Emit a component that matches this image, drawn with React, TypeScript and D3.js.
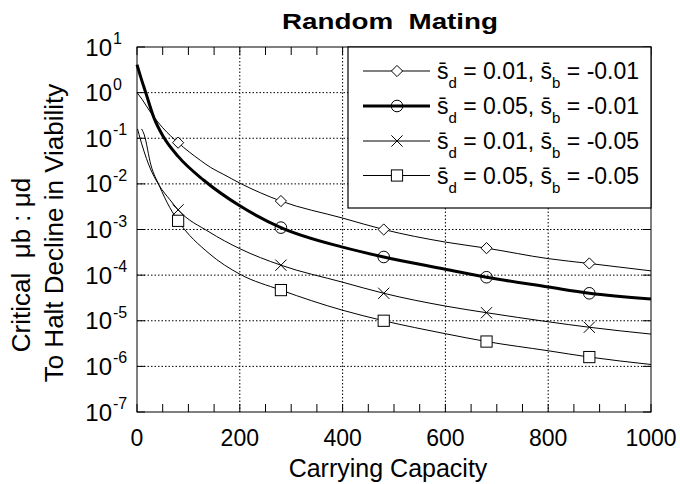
import React from "react";
import * as d3 from "d3";

// ---- data ----
const X_TICKS = [0, 200, 400, 600, 800, 1000];
const X_MINOR = d3.range(0, 1001, 50);
const Y_EXP = [1, 0, -1, -2, -3, -4, -5, -6, -7];

const LABELS = [
  ["0.01", "-0.01"],
  ["0.05", "-0.01"],
  ["0.01", "-0.05"],
  ["0.05", "-0.05"],
];

// series 1: s_d = 0.01, s_b = -0.01 (diamond)
const K_D = [0, 10, 27, 50, 80, 123, 143, 169, 200, 280, 400, 480, 600, 680, 800, 880, 1000];
const V_D = [1.0, 0.71, 0.36, 0.17, 0.08, 0.033, 0.023, 0.016, 0.0104, 4.2e-3, 1.78e-3, 1.0e-3, 5.3e-4, 3.9e-4, 2.3e-4, 1.8e-4, 1.24e-4];
const M_D = [80, 280, 480, 680, 880];

// series 2: s_d = 0.05, s_b = -0.01 (circle, thick)
const K_T = [0, 8, 17, 33, 52, 80, 130, 200, 280, 400, 480, 600, 680, 800, 880, 1000];
const V_T = [4.1, 2.05, 1.0, 0.28, 0.105, 0.04, 0.012, 3.3e-3, 1.1e-3, 4.1e-4, 2.5e-4, 1.35e-4, 9e-5, 5.5e-5, 4e-5, 3e-5];
const M_T = [280, 480, 680, 880];

// series 3: s_d = 0.01, s_b = -0.05 (cross)
const K_X = [1, 4, 23, 43, 64, 80, 140, 200, 280, 400, 480, 600, 680, 800, 880, 1000];
const V_X = [0.16, 0.12, 0.026, 0.0093, 4.5e-3, 2.7e-3, 8.9e-4, 3.8e-4, 1.65e-4, 7e-5, 4e-5, 2.1e-5, 1.5e-5, 9.5e-6, 7.2e-6, 5.1e-6];
const M_X = [80, 280, 480, 680, 880];

// series 4: s_d = 0.05, s_b = -0.05 (square)
const K_S = [9, 14, 27, 43, 64, 80, 140, 200, 280, 400, 480, 600, 680, 800, 880, 1000];
const V_S = [0.16, 0.12, 0.026, 0.0093, 3e-3, 1.55e-3, 3e-4, 1.05e-4, 4.7e-5, 1.7e-5, 1e-5, 5.2e-6, 3.5e-6, 2.2e-6, 1.6e-6, 1.1e-6];
const M_S = [80, 280, 480, 680, 880];

const FONT = "'Liberation Sans', Arial, Helvetica, sans-serif";

type Shape = "diamond" | "circle" | "cross" | "square";

function Marker({ x, y, shape }: { x: number; y: number; shape: Shape }) {
  const s = 5.6;
  if (shape === "diamond")
    return (
      <path
        d={`M${x},${y - s} L${x + s},${y} L${x},${y + s} L${x - s},${y} Z`}
        fill="#fff"
        stroke="#000"
        strokeWidth={1}
      />
    );
  if (shape === "circle")
    return <circle cx={x} cy={y} r={5.8} fill="none" stroke="#000" strokeWidth={1} />;
  if (shape === "cross")
    return (
      <path
        d={`M${x - s},${y - s} L${x + s},${y + s} M${x - s},${y + s} L${x + s},${y - s}`}
        stroke="#000"
        strokeWidth={1}
      />
    );
  return (
    <rect x={x - s} y={y - s} width={2 * s} height={2 * s} fill="#fff" stroke="#000" strokeWidth={1} />
  );
}

export default function App() {
  const W = 680;
  const H = 484;
  const L = 137, R = 651, T = 47, B = 412;
  const x = d3.scaleLinear().domain([0, 1000]).range([L, R]);
  const y = d3.scaleLog().domain([1e-7, 10]).range([B, T]);

  const line = d3
    .line<[number, number]>()
    .x((d) => x(d[0]))
    .y((d) => y(d[1]))
    .curve(d3.curveMonotoneX);

  const series = [
    { k: K_D, v: V_D, m: M_D, shape: "diamond" as Shape, w: 1 },
    { k: K_T, v: V_T, m: M_T, shape: "circle" as Shape, w: 3 },
    { k: K_X, v: V_X, m: M_X, shape: "cross" as Shape, w: 1 },
    { k: K_S, v: V_S, m: M_S, shape: "square" as Shape, w: 1 },
  ];

  const legX = 348, legY = T, legW = R - 348, legH = 161;
  const rowY = [71, 106, 141, 175.5];

  return (
    <svg
      width={W}
      height={H}
      style={{ position: "absolute", left: 0, top: 0, background: "#fff" }}
      fontFamily={FONT}
    >
      <rect x={0} y={0} width={W} height={H} fill="#fff" />
      {/* grid */}
      <g stroke="#000" strokeWidth={1} strokeDasharray="1.5,2">
        {X_TICKS.filter((t) => t > 0 && t < 1000).map((t) => (
          <line key={"gx" + t} x1={x(t)} x2={x(t)} y1={T} y2={B} />
        ))}
        {Y_EXP.filter((e) => e < 1 && e > -7).map((e) => (
          <line key={"gy" + e} x1={L} x2={R} y1={y(Math.pow(10, e))} y2={y(Math.pow(10, e))} />
        ))}
      </g>
      {/* ticks */}
      <g stroke="#000" strokeWidth={1}>
        {X_MINOR.map((t) => (
          <g key={"mt" + t}>
            <line x1={x(t)} x2={x(t)} y1={B} y2={B - 8} />
            <line x1={x(t)} x2={x(t)} y1={T} y2={T + 8} />
          </g>
        ))}
        {Y_EXP.map((e) => (
          <g key={"yt" + e}>
            <line x1={L} x2={L + 8} y1={y(Math.pow(10, e))} y2={y(Math.pow(10, e))} />
            <line x1={R} x2={R - 8} y1={y(Math.pow(10, e))} y2={y(Math.pow(10, e))} />
          </g>
        ))}
      </g>
      {/* curves */}
      {series.map((s, i) => (
        <path
          key={"s" + i}
          d={line(s.k.map((k, j) => [k, s.v[j]] as [number, number])) || ""}
          fill="none"
          stroke="#000"
          strokeWidth={s.w}
        />
      ))}
      {series.map((s, i) =>
        s.m.map((mk) => {
          const j = s.k.indexOf(mk);
          return <Marker key={"m" + i + "-" + mk} x={x(mk)} y={y(s.v[j])} shape={s.shape} />;
        })
      )}
      {/* frame */}
      <rect x={L} y={T} width={R - L} height={B - T} fill="none" stroke="#000" strokeWidth={1} />
      {/* legend */}
      <rect x={legX} y={legY} width={legW} height={legH} fill="#fff" stroke="#000" strokeWidth={1.2} />
      {series.map((s, i) => (
        <g key={"lg" + i}>
          <line x1={363} x2={430} y1={rowY[i]} y2={rowY[i]} stroke="#000" strokeWidth={s.w} />
          <Marker x={397} y={rowY[i]} shape={s.shape} />
          <text x={437} y={rowY[i] + 8} fontSize={23} fill="#000">
            <tspan>{"s\u0304"}</tspan>
            <tspan fontSize={15} dy={9}>d</tspan>
            <tspan dy={-9}>{" = " + LABELS[i][0] + ", s\u0304"}</tspan>
            <tspan fontSize={15} dy={9}>b</tspan>
            <tspan dy={-9}>{" = " + LABELS[i][1]}</tspan>
          </text>
        </g>
      ))}
      {/* y tick labels */}
      {Y_EXP.map((e) => {
        const yy = y(Math.pow(10, e));
        return (
          <g key={"yl" + e}>
            <text x={112} y={yy + 8.5} fontSize={24} textAnchor="end" fill="#000">
              10
            </text>
            <text x={113} y={yy - 3} fontSize={16} fill="#000">
              {String(e)}
            </text>
          </g>
        );
      })}
      {/* x tick labels */}
      {X_TICKS.map((t) => (
        <text key={"xl" + t} x={x(t)} y={446} fontSize={23} textAnchor="middle" fill="#000">
          {t}
        </text>
      ))}
      {/* titles */}
      <text
        x={390}
        y={29}
        fontSize={22}
        fontWeight="bold"
        textAnchor="middle"
        fill="#000"
        xmlSpace="preserve"
        textLength={216}
        lengthAdjust="spacingAndGlyphs"
      >
        Random  Mating
      </text>
      <text x={388} y={477} fontSize={25} textAnchor="middle" fill="#000">
        Carrying Capacity
      </text>
      <text transform="translate(30,265) rotate(-90)" fontSize={26} textAnchor="middle" fill="#000" xmlSpace="preserve">
        {"Critical  \u03bcb : \u03bcd"}
      </text>
      <text transform="translate(63,233) rotate(-90)" fontSize={26} textAnchor="middle" fill="#000">
        To Halt Decline in Viability
      </text>
    </svg>
  );
}
